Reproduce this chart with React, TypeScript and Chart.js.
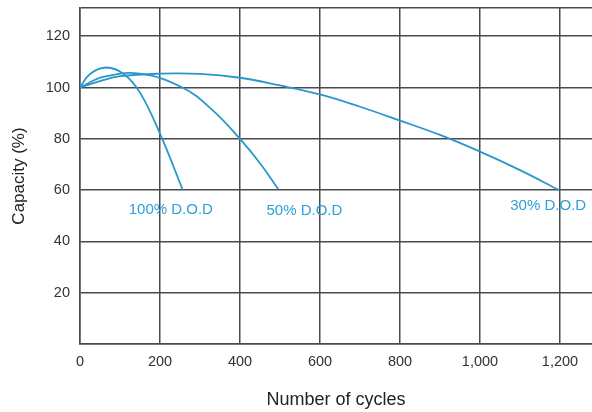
import React, { useEffect, useRef } from "react";
import { Chart, registerables } from "chart.js";

Chart.register(...registerables);

const dod100X = [0, 25, 66, 110, 150, 200, 257];
const dod100Y = [100, 105.3, 107.8, 105.2, 98, 82, 60];

const dod50X = [0, 60, 150, 256, 330, 400, 450, 496];
const dod50Y = [100, 104.2, 105.4, 100, 91.4, 80, 70.5, 60.3];

const dod30X = [0, 50, 100, 200, 300, 400, 500, 600, 700, 800, 900, 1000, 1100, 1198];
const dod30Y = [100, 102.5, 104.4, 105.4, 105.3, 103.8, 100.8, 97.3, 92.5, 87.1, 81.5, 75, 67.8, 60];

const xTicks = [0, 200, 400, 600, 800, 1000, 1200];
const yTicks = [0, 20, 40, 60, 80, 100, 120];

const seriesLabels = ["100% D.O.D", "50% D.O.D", "30% D.O.D"];
const labelOffsets = [
  [-12, 20],
  [26, 22],
  [-11, 16],
];

const xMax = 1280;
const yMax = 131;

const LINE = "#2a97cc";
const TEXT_BLUE = "#2aa1da";
const GRID = "#4a4a4a";
const FONT = "'Liberation Sans', Arial, sans-serif";

function toPoints(xs: number[], ys: number[]) {
  return xs.map((x, i) => ({ x, y: ys[i] }));
}

const endLabels = {
  id: "endLabels",
  afterDatasetsDraw(chart: any) {
    const ctx = chart.ctx;
    ctx.save();
    ctx.font = `15px ${FONT}`;
    ctx.fillStyle = TEXT_BLUE;
    ctx.textAlign = "center";
    ctx.textBaseline = "middle";
    chart.data.datasets.forEach((ds: any, i: number) => {
      const meta = chart.getDatasetMeta(i);
      const last = meta.data[meta.data.length - 1];
      if (!last) return;
      ctx.fillText(seriesLabels[i], last.x + labelOffsets[i][0], last.y + labelOffsets[i][1]);
    });
    ctx.restore();
  },
};

export default function App() {
  const ref = useRef<HTMLCanvasElement | null>(null);
  useEffect(() => {
    if (!ref.current) return;
    const mk = (xs: number[], ys: number[], label: string) => ({
      label,
      data: toPoints(xs, ys),
      borderColor: LINE,
      backgroundColor: LINE,
      borderWidth: 1.8,
      pointRadius: 0,
      fill: false,
      tension: 0.4,
    });
    const chart = new Chart(ref.current, {
      type: "line",
      data: {
        datasets: [
          mk(dod100X, dod100Y, seriesLabels[0]),
          mk(dod50X, dod50Y, seriesLabels[1]),
          mk(dod30X, dod30Y, seriesLabels[2]),
        ],
      },
      options: {
        responsive: false,
        animation: false,
        layout: { padding: { top: 8, right: 0, left: 0, bottom: 0 } },
        plugins: { legend: { display: false }, tooltip: { enabled: false } },
        scales: {
          x: {
            type: "linear",
            min: 0,
            max: xMax,
            afterBuildTicks: (s: any) => {
              s.ticks = xTicks.map((v) => ({ value: v }));
            },
            afterFit: (s: any) => {
              s.height = 68;
              s.paddingLeft = 0;
              s.paddingRight = 0;
            },
            ticks: {
              padding: 9,
              color: "#333",
              font: { family: FONT, size: 14.5 },
              maxRotation: 0,
              autoSkip: false,
              callback: (v: any) => Number(v).toLocaleString("en-US"),
            },
            grid: { drawTicks: false, lineWidth: 1.5, color: GRID },
            border: { color: GRID, width: 1.5 },
            title: {
              display: true,
              text: "Number of cycles",
              color: "#222",
              font: { family: FONT, size: 18 },
              padding: { top: 0, bottom: 1 },
            },
          },
          y: {
            type: "linear",
            min: 0,
            max: yMax,
            afterBuildTicks: (s: any) => {
              s.ticks = [...yTicks, yMax].map((v) => ({ value: v }));
            },
            afterFit: (s: any) => {
              s.width = 80;
              s.paddingTop = 0;
              s.paddingBottom = 0;
            },
            ticks: {
              padding: 10,
              color: "#333",
              font: { family: FONT, size: 14.5 },
              autoSkip: false,
              callback: (v: any) => (v !== 0 && yTicks.includes(v) ? String(v) : ""),
            },
            grid: { drawTicks: false, lineWidth: 1.5, color: GRID },
            border: { color: GRID, width: 1.5 },
            title: {
              display: true,
              text: "Capacity (%)",
              color: "#222",
              font: { family: FONT, size: 17 },
              padding: { top: 9, bottom: 0 },
            },
          },
        },
      },
      plugins: [endLabels],
    });
    return () => chart.destroy();
  }, []);
  return (
    <div style={{ position: "absolute", left: 0, top: 0, width: 592, height: 412, background: "#fff" }}>
      <canvas ref={ref} width={592} height={412} style={{ width: 592, height: 412, display: "block" }} />
    </div>
  );
}
